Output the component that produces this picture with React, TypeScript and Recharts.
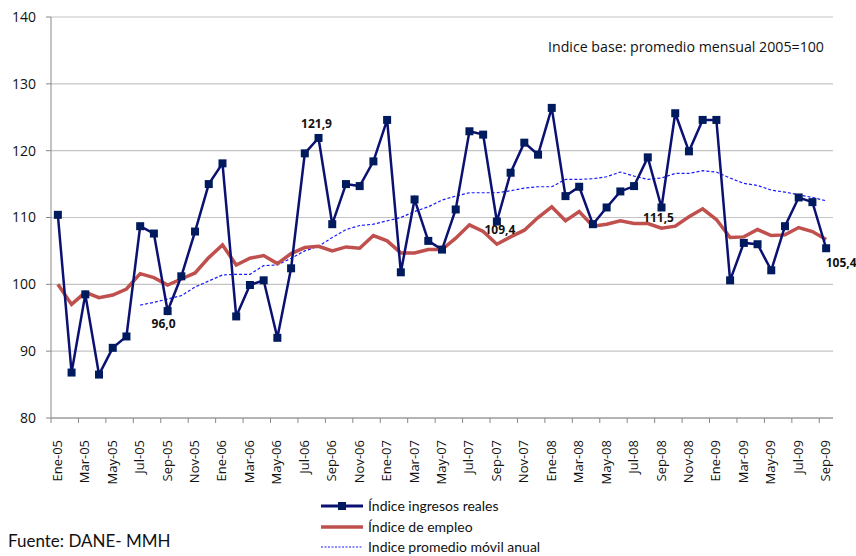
import React from "react";
import { LineChart, Line, XAxis, YAxis, CartesianGrid, Legend, LabelList } from "recharts";

const MONTHS = [
  "Ene-05", "Feb-05", "Mar-05", "Abr-05", "May-05", "Jun-05", "Jul-05", "Ago-05", "Sep-05", "Oct-05", "Nov-05", "Dic-05",
  "Ene-06", "Feb-06", "Mar-06", "Abr-06", "May-06", "Jun-06", "Jul-06", "Ago-06", "Sep-06", "Oct-06", "Nov-06", "Dic-06",
  "Ene-07", "Feb-07", "Mar-07", "Abr-07", "May-07", "Jun-07", "Jul-07", "Ago-07", "Sep-07", "Oct-07", "Nov-07", "Dic-07",
  "Ene-08", "Feb-08", "Mar-08", "Abr-08", "May-08", "Jun-08", "Jul-08", "Ago-08", "Sep-08", "Oct-08", "Nov-08", "Dic-08",
  "Ene-09", "Feb-09", "Mar-09", "Abr-09", "May-09", "Jun-09", "Jul-09", "Ago-09", "Sep-09",
];

const INGRESOS = [
  110.4, 86.8, 98.5, 86.5, 90.5, 92.2, 108.7, 107.6, 96.0, 101.2, 107.9, 115.0,
  118.1, 95.2, 99.9, 100.6, 92.0, 102.4, 119.6, 121.9, 109.0, 115.0, 114.7, 118.4,
  124.6, 101.8, 112.7, 106.5, 105.2, 111.2, 122.9, 122.4, 109.4, 116.7, 121.2, 119.4,
  126.4, 113.2, 114.6, 109.0, 111.5, 113.9, 114.7, 119.0, 111.5, 125.6, 119.9, 124.6,
  124.6, 100.6, 106.2, 106.0, 102.1, 108.7, 113.0, 112.3, 105.4,
];

const EMPLEO = [
  100.0, 97.0, 98.8, 98.0, 98.4, 99.3, 101.6, 101.0, 99.9, 100.8, 101.7, 104.0,
  105.9, 102.9, 103.9, 104.3, 103.1, 104.6, 105.5, 105.7, 105.0, 105.6, 105.4, 107.3,
  106.5, 104.7, 104.7, 105.2, 105.2, 106.9, 108.9, 107.9, 106.0, 107.1, 108.1, 110.0,
  111.6, 109.5, 110.9, 108.7, 109.0, 109.5, 109.1, 109.1, 108.4, 108.7, 110.1, 111.3,
  109.7, 107.0, 107.1, 108.2, 107.3, 107.4, 108.5, 107.9, 106.7,
];

const PROMEDIO = [
  null, null, null, null, null, null, 96.9, 97.3, 97.8, 98.3, 99.6, 100.5,
  101.4, 101.5, 101.5, 102.8, 102.9, 103.9, 105.0, 105.7, 107.0, 108.2, 108.8, 109.0,
  109.5, 110.0, 110.9, 111.6, 112.6, 113.2, 113.7, 113.7, 113.7, 114.0, 114.4, 114.6,
  114.6, 115.7, 115.7, 115.8, 116.1, 116.8, 116.2, 115.7, 115.9, 116.6, 116.6, 117.0,
  116.8, 115.9, 115.1, 114.8, 114.1, 113.8, 113.4, 113.0, 112.5,
];

// data labels shown on the ingresos series
const LABELS: Record<string, string> = {
  "Sep-05": "96,0",
  "Ago-06": "121,9",
  "Sep-07": "109,4",
  "Sep-08": "111,5",
  "Sep-09": "105,4",
};

const Y_TICKS = [80, 90, 100, 110, 120, 130, 140];

const data = MONTHS.map((m, i) => ({
  mes: m,
  ingresos: INGRESOS[i],
  empleo: EMPLEO[i],
  promedio: PROMEDIO[i],
  label: LABELS[m] ?? "",
}));

const W = 856;
const H = 556;
const MARGIN = { top: 17, right: 23, left: 0, bottom: 0 };
const Y_WIDTH = 51;
const BAND = (W - MARGIN.right - Y_WIDTH) / MONTHS.length;

const NAVY = "#0a1172";
const RED = "#c0504d";
const BLUE = "#1a1aff";
const FONT = "'Open Sans', 'DejaVu Sans', sans-serif";
const CAL = "Lato, 'Open Sans', sans-serif";

const labelOffsets: Record<string, [number, number]> = {
  "Sep-05": [-4, 17],
  "Ago-06": [-2, -10],
  "Sep-07": [3, 12],
  "Sep-08": [-3, 15],
  "Sep-09": [15, 19],
};

function MonthTick(props: any) {
  const { x, y, payload } = props;
  const left = x - BAND / 2;
  return (
    <g>
      <line x1={left} x2={left} y1={y - 8} y2={y - 3} stroke="#888" />
      <text
        x={x}
        y={y + 10}
        transform={`rotate(-90, ${x + 4}, ${y + 10})`}
        textAnchor="end"
        fontSize={13}
        fontFamily={FONT}
        fill="#111"
      >
        {payload.value}
      </text>
    </g>
  );
}

function SquareDot(props: any) {
  const { cx, cy } = props;
  if (cx == null || cy == null) return null;
  return <rect x={cx - 4} y={cy - 4} width={8} height={8} fill="#001a5e" />;
}

function PointLabel(props: any) {
  const { x, y, value, index } = props;
  if (!value) return null;
  const [dx, dy] = labelOffsets[MONTHS[index]] ?? [0, 0];
  return (
    <text x={x + dx} y={y + dy} textAnchor="middle" fontSize={12} fontWeight="bold" fontFamily={FONT} fill="#111">
      {value}
    </text>
  );
}

const legendItems = [
  { name: "Índice ingresos reales", color: NAVY, width: 3, dash: undefined, marker: true },
  { name: "Índice de empleo", color: RED, width: 3.5, dash: undefined, marker: false },
  { name: "Indice promedio móvil anual", color: BLUE, width: 1.2, dash: "2 1.5", marker: false },
];

function ChartLegend() {
  return (
    <div style={{ fontFamily: CAL, fontSize: 14, lineHeight: "16px", color: "#111" }}>
      {legendItems.map((it) => (
        <div key={it.name} style={{ display: "flex", alignItems: "center", height: 20.5 }}>
          <svg width={44} height={12} style={{ marginRight: 4 }}>
            <line x1={1} x2={43} y1={6} y2={6} stroke={it.color} strokeWidth={it.width} strokeDasharray={it.dash} />
            {it.marker && <rect x={18} y={2} width={8} height={8} fill="#001a5e" />}
          </svg>
          <span>{it.name}</span>
        </div>
      ))}
    </div>
  );
}

export default function App() {
  return (
    <div style={{ position: "absolute", left: 0, top: 0, width: W, height: H, background: "#fff", overflow: "hidden" }}>
      <LineChart width={W} height={H} data={data} margin={MARGIN}>
        <CartesianGrid vertical={false} stroke="#c4c4c4" strokeWidth={1.2} />
        <XAxis
          dataKey="mes"
          interval={1}
          height={138}
          padding={{ left: BAND / 2, right: BAND / 2 }}
          tick={<MonthTick />}
          tickLine={false}
          axisLine={{ stroke: "#888" }}
        />
        <YAxis
          width={Y_WIDTH}
          domain={[80, 140]}
          ticks={Y_TICKS}
          tickSize={5}
          tickMargin={10}
          tickLine={{ stroke: "#888" }}
          axisLine={{ stroke: "#888" }}
          tick={{ fontSize: 14, fontFamily: FONT, fill: "#111" }}
        />
        <Legend
          layout="vertical"
          align="center"
          verticalAlign="middle"
          content={<ChartLegend />}
          wrapperStyle={{ position: "absolute", left: 320, top: 496, width: 260, height: 60 }}
        />
        <Line
          dataKey="promedio"
          stroke={BLUE}
          strokeWidth={1.2}
          strokeDasharray="3 2"
          dot={false}
          isAnimationActive={false}
        />
        <Line dataKey="empleo" stroke={RED} strokeWidth={3.5} dot={false} isAnimationActive={false} />
        <Line
          dataKey="ingresos"
          stroke={NAVY}
          strokeWidth={2.5}
          dot={<SquareDot />}
          isAnimationActive={false}
        >
          <LabelList dataKey="label" content={<PointLabel />} />
        </Line>
      </LineChart>
      <div
        style={{ position: "absolute", left: 548, top: 37, fontFamily: FONT, fontSize: 14.2, color: "#111", whiteSpace: "nowrap" }}
      >
        Indice base: promedio mensual 2005=100
      </div>
      <div style={{ position: "absolute", left: 8, top: 530, fontFamily: CAL, fontSize: 17, color: "#111", whiteSpace: "nowrap" }}>
        Fuente: DANE- MMH
      </div>
    </div>
  );
}
